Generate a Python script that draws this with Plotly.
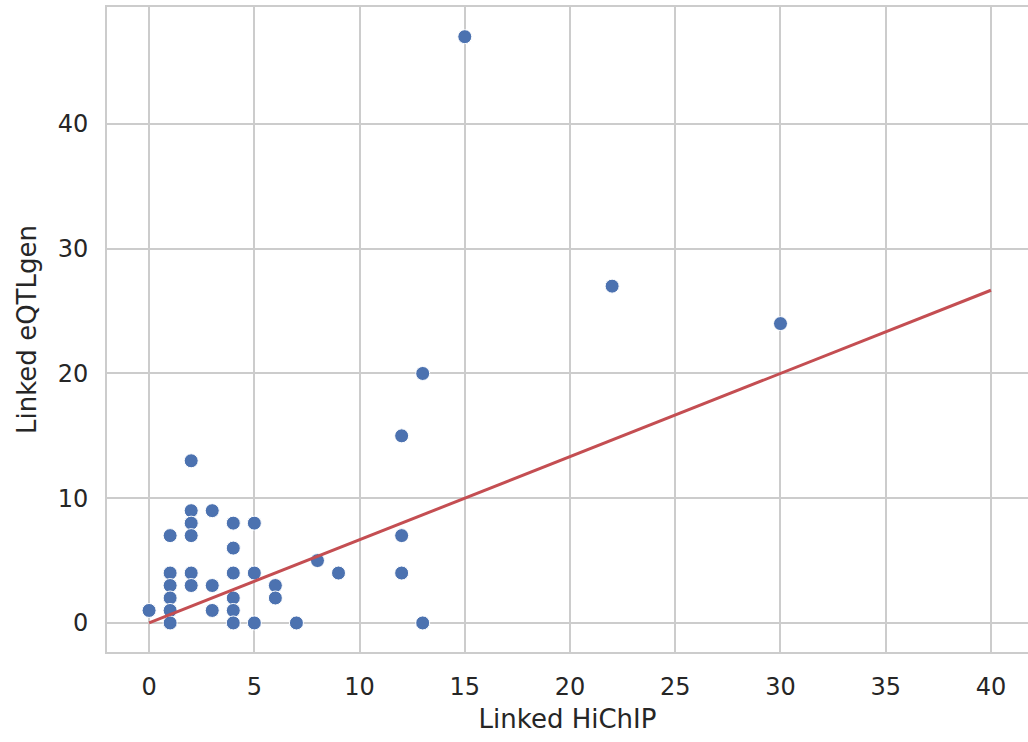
import plotly.graph_objects as go

# Scatter data: Linked HiChIP (x) vs Linked eQTLgen (y)
hichip = [2, 2, 3, 2, 4, 5, 1, 2, 4, 1, 2, 4, 5, 1, 2, 3, 6, 1, 4, 6,
          0, 1, 3, 4, 1, 4, 5, 7, 8, 9, 12, 13, 12, 12, 13, 15, 22, 30]
eqtlgen = [13, 9, 9, 8, 8, 8, 7, 7, 6, 4, 4, 4, 4, 3, 3, 3, 3, 2, 2, 2,
           1, 1, 1, 1, 0, 0, 0, 0, 5, 4, 15, 20, 7, 4, 0, 47, 27, 24]

# Fitted line endpoints
line_x = [0, 40]
line_y = [0, 26.67]

x_ticks = [0, 5, 10, 15, 20, 25, 30, 35, 40]
y_ticks = [0, 10, 20, 30, 40]

fig = go.Figure()
fig.add_trace(go.Scatter(
    x=hichip, y=eqtlgen, mode="markers",
    marker=dict(color="#4C72B0", size=14, line=dict(color="white", width=1)),
    showlegend=False,
))
fig.add_trace(go.Scatter(
    x=line_x, y=line_y, mode="lines",
    line=dict(color="#C44E52", width=3),
    showlegend=False,
))

font_color = "#262626"
fig.update_layout(
    width=1028, height=742,
    margin=dict(l=107, r=0, t=7, b=90),
    plot_bgcolor="white", paper_bgcolor="white",
    font=dict(family="DejaVu Sans", size=24, color=font_color),
    xaxis=dict(
        range=[-2, 41.76], tickvals=x_ticks, ticktext=[str(t) for t in x_ticks],
        showgrid=True, gridcolor="#cccccc", gridwidth=2,
        showline=True, linecolor="#cccccc", linewidth=2, mirror=True,
        zeroline=False, ticks="", ticklabelstandoff=12,
        title=dict(text="Linked HiChIP", font=dict(size=26, color=font_color), standoff=10),
    ),
    yaxis=dict(
        range=[-2.33, 49.38], tickvals=y_ticks, ticktext=[str(t) for t in y_ticks],
        showgrid=True, gridcolor="#cccccc", gridwidth=2,
        showline=True, linecolor="#cccccc", linewidth=2,
        zeroline=False, ticks="", ticklabelstandoff=12,
        title=dict(text="Linked eQTLgen", font=dict(size=26, color=font_color), standoff=14),
    ),
)

fig.write_html("out.html")
